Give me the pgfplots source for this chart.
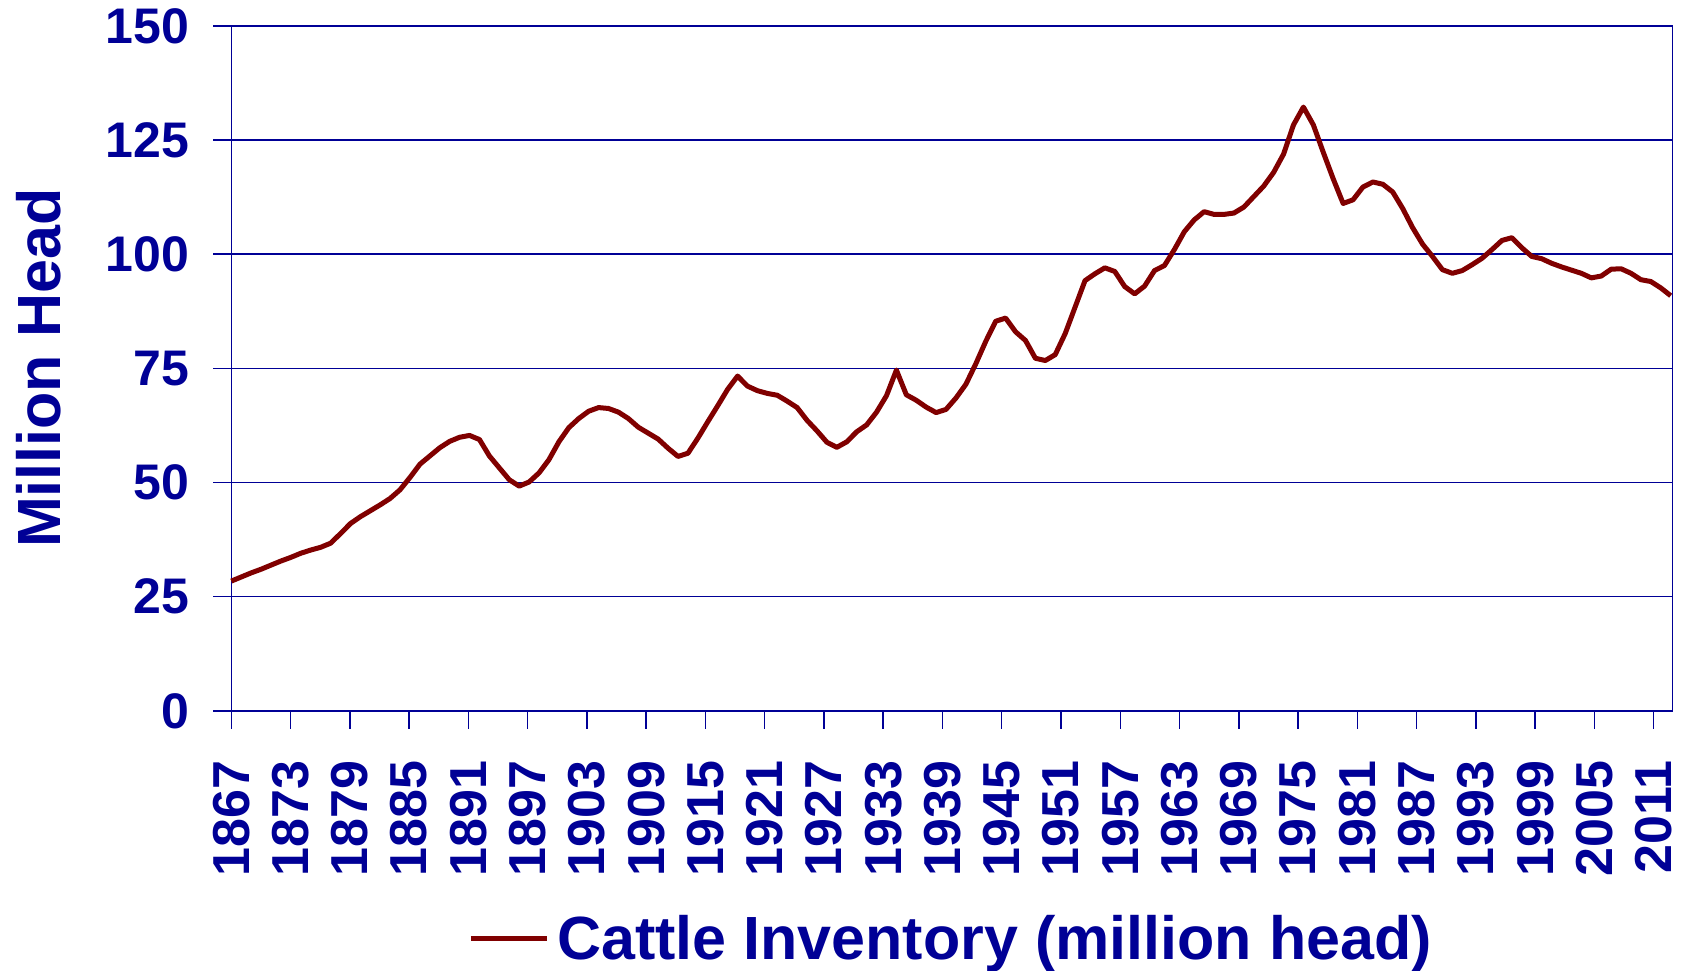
\documentclass[border=0pt]{standalone}
\usepackage{fontspec}
\setmainfont{Liberation Sans}
\usepackage{pgfplots}
\pgfplotsset{compat=1.18}
\usepackage{pgfplotstable}
\definecolor{navyb}{RGB}{0,0,150}
\definecolor{maroonl}{RGB}{128,0,0}
\pgfplotstableread{
year value
1867 28.4
1868 29.3
1869 30.2
1870 31.0
1871 31.9
1872 32.8
1873 33.6
1874 34.5
1875 35.2
1876 35.8
1877 36.7
1878 38.8
1879 41.0
1880 42.5
1881 43.8
1882 45.1
1883 46.5
1884 48.4
1885 51.1
1886 54.0
1887 55.8
1888 57.6
1889 59.0
1890 59.9
1891 60.3
1892 59.4
1893 55.8
1894 53.2
1895 50.6
1896 49.2
1897 50.1
1898 52.1
1899 55.0
1900 58.9
1901 62.0
1902 64.0
1903 65.6
1904 66.4
1905 66.2
1906 65.4
1907 64.0
1908 62.1
1909 60.8
1910 59.5
1911 57.5
1912 55.7
1913 56.4
1914 59.7
1915 63.3
1916 66.8
1917 70.4
1918 73.3
1919 71.1
1920 70.1
1921 69.5
1922 69.1
1923 67.8
1924 66.4
1925 63.6
1926 61.3
1927 58.8
1928 57.7
1929 58.9
1930 61.1
1931 62.6
1932 65.4
1933 69.0
1934 74.6
1935 69.2
1936 68.0
1937 66.5
1938 65.3
1939 66.0
1940 68.5
1941 71.5
1942 76.0
1943 80.9
1944 85.3
1945 86.0
1946 83.0
1947 81.1
1948 77.2
1949 76.7
1950 78.0
1951 82.6
1952 88.4
1953 94.2
1954 95.7
1955 97.0
1956 96.2
1957 92.9
1958 91.3
1959 93.0
1960 96.4
1961 97.5
1962 101.0
1963 104.9
1964 107.5
1965 109.3
1966 108.7
1967 108.7
1968 109.0
1969 110.3
1970 112.6
1971 114.9
1972 117.9
1973 121.9
1974 128.3
1975 132.2
1976 128.3
1977 122.3
1978 116.5
1979 111.1
1980 111.9
1981 114.7
1982 115.8
1983 115.3
1984 113.6
1985 110.0
1986 105.8
1987 102.2
1988 99.5
1989 96.6
1990 95.8
1991 96.4
1992 97.7
1993 99.1
1994 101.0
1995 103.0
1996 103.6
1997 101.4
1998 99.5
1999 99.0
2000 98.0
2001 97.2
2002 96.5
2003 95.8
2004 94.8
2005 95.2
2006 96.7
2007 96.8
2008 95.8
2009 94.4
2010 94.0
2011 92.6
2012 90.9
}\cattle
\begin{document}
\begin{tikzpicture}
\begin{axis}[
  scale only axis,
  width=720.7pt, height=342.5pt,
  xmin=1867, xmax=2012.2,
  ymin=0, ymax=150,
  ytick={0,25,50,75,100,125,150},
  xtick={1867,1872.97,1878.94,1884.91,1890.88,1896.85,1902.82,1908.79,1914.76,1920.73,1926.70,1932.67,1938.64,1944.61,1950.58,1956.55,1962.52,1968.49,1974.46,1980.43,1986.40,1992.37,1998.34,2004.31,2010.28},
  xticklabels={1867,1873,1879,1885,1891,1897,1903,1909,1915,1921,1927,1933,1939,1945,1951,1957,1963,1969,1975,1981,1987,1993,1999,2005,2011},
  tick pos=left,
  tick align=outside,
  major tick length=9pt,
  tick style={navyb, line width=0.75pt},
  axis line style={navyb, line width=0.75pt},
  ymajorgrids,
  grid style={navyb, line width=0.65pt},
  /pgf/number format/assume math mode=true,
  ticklabel style={text=navyb},
  yticklabel style={font=\fontsize{25}{27}\selectfont\bfseries, anchor=east, xshift=-8.7pt},
  xticklabel style={font=\fontsize{26}{28}\selectfont\bfseries, rotate=90, anchor=east, xshift=-12.4pt},
  ylabel={Million Head},
  every axis y label/.style={at={([xshift=-96.3pt]axis description cs:0,0.5)}, rotate=90, anchor=center, font=\fontsize{30.5}{32}\selectfont\bfseries, text=navyb},
  legend style={at={([yshift=-114pt]axis description cs:0.5,0)}, anchor=center, draw=none, fill=none, font=\fontsize{30.5}{32}\selectfont\bfseries, text=navyb, inner sep=0pt},
  legend image code/.code={\draw[#1, line width=2.5pt] (0pt,0pt) -- (38pt,0pt); \path (40pt,0pt);},
  clip=false,
]
\addplot[maroonl, line width=2.5pt, line join=round, mark=none] table[x=year, y=value] {\cattle};
\addlegendentry{Cattle Inventory (million head)}
\end{axis}
\pgfresetboundingbox
\path[use as bounding box] (-115.65pt,-129.6pt) rectangle (727.35pt,355.4pt);
\end{tikzpicture}
\end{document}
